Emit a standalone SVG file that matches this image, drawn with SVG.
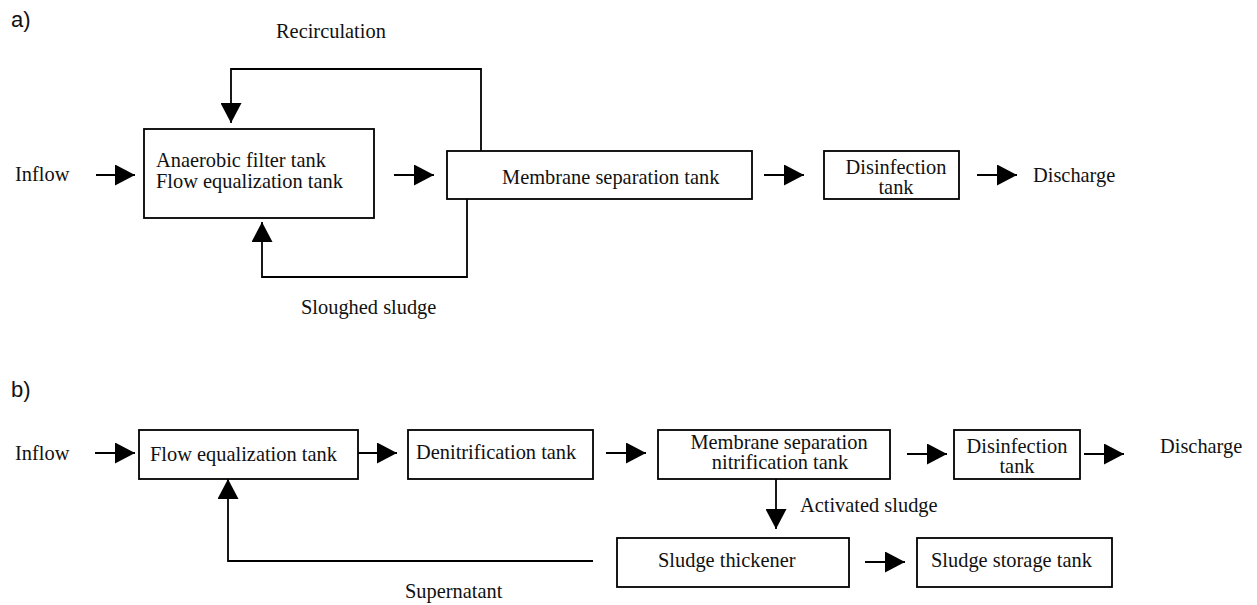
<svg xmlns="http://www.w3.org/2000/svg" width="1257" height="605" viewBox="0 0 1257 605">
  <style>
    .box { fill: #ffffff; stroke: #000000; stroke-width: 1.8; }
    .wire { fill: none; stroke: #000000; stroke-width: 1.8; }
    .lbl { font-family: "Liberation Serif", "Times New Roman", serif; font-size: 20.4px; fill: #111111; }
    .mid { text-anchor: middle; }
    .part { font-family: "Liberation Sans", Arial, sans-serif; font-size: 22px; fill: #111111; }
  </style>
  <defs>
    <marker id="head" markerUnits="userSpaceOnUse" markerWidth="20" markerHeight="21" refX="20" refY="10.5" orient="auto">
      <path d="M0,0 L20,10.5 L0,21 Z" fill="#000000"/>
    </marker>
  </defs>
  <rect width="1257" height="605" fill="#ffffff"/>

  <!-- part a -->
  <text class="part" x="11" y="27">a)</text>
  <text class="lbl" x="276" y="38">Recirculation</text>
  <text class="lbl" x="15" y="181">Inflow</text>
  <text class="lbl" x="1033" y="182">Discharge</text>
  <text class="lbl" x="301" y="314">Sloughed sludge</text>

  <g id="a-anaerobic">
    <rect class="box" x="144" y="129" width="230" height="89"/>
    <text class="lbl" x="156" y="167">Anaerobic filter tank</text>
    <text class="lbl" x="156" y="188">Flow equalization tank</text>
  </g>
  <g id="a-membrane">
    <rect class="box" x="447" y="151" width="305" height="48"/>
    <text class="lbl" x="502" y="184">Membrane separation tank</text>
  </g>
  <g id="a-disinfection">
    <rect class="box" x="824" y="151" width="135" height="48"/>
    <text class="lbl mid" x="896" y="174">Disinfection</text>
    <text class="lbl mid" x="896" y="194">tank</text>
  </g>

  <!-- part b -->
  <text class="part" x="11" y="397">b)</text>
  <text class="lbl" x="15" y="460">Inflow</text>
  <text class="lbl" x="1160" y="453">Discharge</text>
  <text class="lbl" x="800" y="512">Activated sludge</text>
  <text class="lbl" x="405" y="598">Supernatant</text>

  <g id="b-equalization">
    <rect class="box" x="139" y="430" width="219" height="49"/>
    <text class="lbl" x="150" y="461">Flow equalization tank</text>
  </g>
  <g id="b-denitrification">
    <rect class="box" x="408" y="430" width="185" height="49"/>
    <text class="lbl" x="416" y="459">Denitrification tank</text>
  </g>
  <g id="b-membrane">
    <rect class="box" x="658" y="430" width="232" height="49"/>
    <text class="lbl mid" x="779" y="449">Membrane separation</text>
    <text class="lbl mid" x="780" y="469">nitrification tank</text>
  </g>
  <g id="b-disinfection">
    <rect class="box" x="954" y="430" width="126" height="49"/>
    <text class="lbl mid" x="1017" y="453">Disinfection</text>
    <text class="lbl mid" x="1017" y="473">tank</text>
  </g>
  <g id="b-thickener">
    <rect class="box" x="617" y="538" width="232" height="49"/>
    <text class="lbl" x="658" y="567">Sludge thickener</text>
  </g>
  <g id="b-storage">
    <rect class="box" x="917" y="538" width="195" height="49"/>
    <text class="lbl" x="931" y="567">Sludge storage tank</text>
  </g>

  <!-- connectors -->
  <g id="connectors" class="wire">
    <path class="wire" d="M96,175 H135" marker-end="url(#head)"/>
    <path class="wire" d="M394,175 H434" marker-end="url(#head)"/>
    <path class="wire" d="M764,175 H804" marker-end="url(#head)"/>
    <path class="wire" d="M977,175 H1017" marker-end="url(#head)"/>
    <path class="wire" d="M481,151 V69 H231 V123" marker-end="url(#head)"/>
    <path class="wire" d="M467,199 V277 H262 V222" marker-end="url(#head)"/>

    <path class="wire" d="M95,453 H135" marker-end="url(#head)"/>
    <path class="wire" d="M358,453 H397" marker-end="url(#head)"/>
    <path class="wire" d="M606,453 H646" marker-end="url(#head)"/>
    <path class="wire" d="M907,454 H947" marker-end="url(#head)"/>
    <path class="wire" d="M1084,454 H1124" marker-end="url(#head)"/>
    <path class="wire" d="M776,479 V529" marker-end="url(#head)"/>
    <path class="wire" d="M865,562 H905" marker-end="url(#head)"/>
    <path class="wire" d="M593,561 H228 V479" marker-end="url(#head)"/>
  </g>
</svg>
